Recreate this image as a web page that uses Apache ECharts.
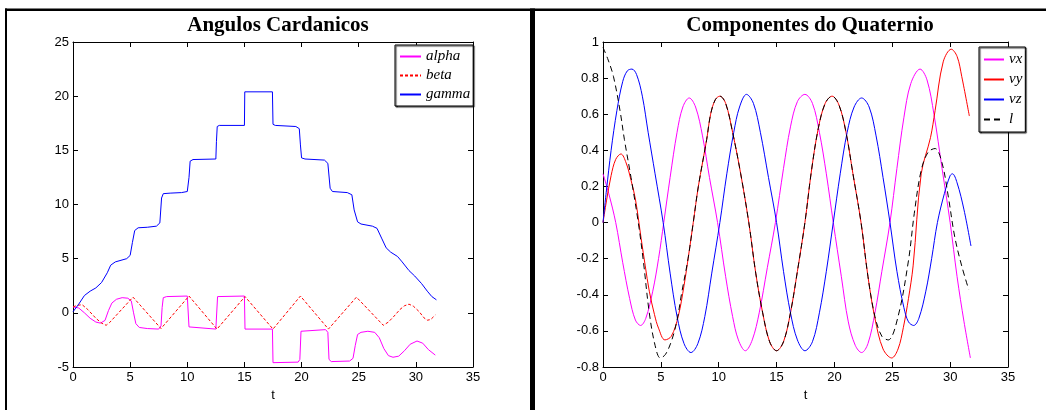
<!DOCTYPE html>
<html>
<head>
<meta charset="utf-8">
<script src="https://cdn.jsdelivr.net/npm/echarts@6/dist/echarts.min.js"></script>
<style>
  html, body { margin: 0; padding: 0; background: #fff; }
  #chart { width: 1046px; height: 410px; }
</style>
</head>
<body>
<div id="chart"></div>
<script>
// ---- Angulos Cardanicos: [t, angle] samples ----
const alpha = [[0,0.55],[0.5,0.45],[1.0,0.0],[1.5,-0.5],[2.0,-0.85],[2.4,-0.95],[2.8,-0.7],[3.1,0.2],[3.4,0.9],[3.8,1.25],[4.3,1.4],[4.8,1.35],[5.1,1.1],[5.3,0.0],[5.5,-1.0],[5.8,-1.35],[6.5,-1.45],[7.5,-1.5],[7.7,-1.2],[7.8,0.5],[7.9,1.4],[8.2,1.5],[10.0,1.55],[10.1,1.5],[10.15,-1.3],[10.3,-1.45],[12.5,-1.5],[12.6,-1.4],[12.65,1.5],[15.0,1.55],[15.05,-1.5],[17.45,-1.5],[17.5,-4.6],[19.7,-4.55],[19.85,-4.3],[19.95,-1.7],[20.1,-1.55],[22.1,-1.55],[22.3,-1.8],[22.4,-4.3],[22.6,-4.5],[24.2,-4.45],[24.5,-4.2],[24.7,-3.0],[24.9,-2.0],[25.2,-1.8],[25.8,-1.7],[26.4,-1.8],[26.8,-2.3],[27.2,-3.3],[27.6,-3.95],[28.0,-4.1],[28.5,-4.0],[29.0,-3.5],[29.5,-2.9],[30.1,-2.6],[30.6,-2.8],[31.1,-3.4],[31.7,-3.9]];
const beta = [[0,0.55],[0.4,0.7],[0.8,0.75],[1.3,0.3],[2.0,-0.5],[2.5,-0.95],[2.9,-1.15],[3.2,-0.9],[5.25,1.45],[7.7,-1.45],[10.15,1.55],[12.6,-1.5],[15.05,1.5],[17.5,-1.5],[19.9,1.55],[22.35,-1.5],[24.8,1.45],[27.15,-1.15],[27.6,-0.85],[28.1,-0.3],[28.6,0.3],[29.0,0.65],[29.4,0.8],[29.8,0.6],[30.3,0.1],[30.7,-0.45],[31.0,-0.68],[31.3,-0.62],[31.7,-0.2]];
const gamma = [[0,0.1],[0.5,0.8],[1.0,1.6],[1.5,2.0],[2.0,2.3],[2.5,2.8],[3.0,3.7],[3.3,4.4],[3.7,4.7],[4.2,4.85],[4.7,5.0],[5.0,5.3],[5.2,6.5],[5.4,7.6],[5.7,7.85],[6.5,7.9],[7.3,8.0],[7.6,8.3],[7.75,10.6],[7.9,11.0],[8.5,11.05],[9.5,11.1],[10.0,11.2],[10.15,12.5],[10.25,14.0],[10.5,14.15],[12.5,14.2],[12.55,15.8],[12.62,17.2],[12.8,17.3],[15.0,17.3],[15.03,20.4],[17.45,20.4],[17.5,17.4],[17.7,17.3],[19.5,17.2],[19.8,17.0],[19.9,15.5],[20.0,14.3],[20.3,14.2],[22.0,14.1],[22.3,13.8],[22.5,11.5],[22.7,11.2],[24.0,11.1],[24.4,10.9],[24.6,9.5],[24.9,8.4],[25.2,8.2],[26.2,8.0],[26.6,7.8],[27.0,6.9],[27.4,6.0],[27.8,5.6],[28.4,5.2],[28.8,4.7],[29.4,3.9],[29.9,3.4],[30.5,2.7],[31.0,2.0],[31.4,1.5],[31.8,1.2]];

// ---- Componentes do Quaternio: [t, component] samples ----
const vx = [[0,0.27],[0.5,0.16],[1.1,0.0],[1.7,-0.22],[2.3,-0.42],[2.8,-0.54],[3.25,-0.57],[3.7,-0.53],[4.3,-0.38],[4.8,-0.2],[5.25,0.0],[5.8,0.25],[6.4,0.5],[6.9,0.64],[7.45,0.69],[8.0,0.64],[8.6,0.48],[9.2,0.25],[9.9,0.0],[10.6,-0.3],[11.2,-0.52],[11.7,-0.65],[12.3,-0.71],[12.9,-0.65],[13.5,-0.5],[14.2,-0.25],[14.9,0.0],[15.6,0.3],[16.2,0.53],[16.8,0.67],[17.45,0.71],[18.1,0.66],[18.7,0.5],[19.3,0.27],[19.9,0.0],[20.6,-0.3],[21.2,-0.55],[21.8,-0.68],[22.35,-0.72],[22.9,-0.67],[23.5,-0.5],[24.1,-0.27],[24.8,0.0],[25.4,0.3],[26.0,0.58],[26.6,0.77],[27.4,0.85],[28.0,0.79],[28.6,0.6],[29.3,0.3],[30.0,0.0],[30.6,-0.3],[31.2,-0.55],[31.75,-0.75]];
const vy = [[0,0.0],[0.3,0.12],[0.7,0.26],[1.1,0.35],[1.55,0.38],[2.0,0.33],[2.4,0.24],[2.8,0.13],[3.3,-0.09],[3.65,-0.24],[4.0,-0.38],[4.45,-0.51],[4.8,-0.585],[5.35,-0.65],[5.9,-0.63],[6.5,-0.52],[7.0,-0.35],[7.4,-0.18],[7.8,0.0],[8.24,0.2],[8.96,0.46],[9.3,0.6],[9.7,0.68],[10.1,0.7],[10.6,0.66],[11.2,0.5],[11.9,0.27],[12.6,0.0],[13.2,-0.28],[13.8,-0.5],[14.4,-0.66],[15.0,-0.71],[15.6,-0.66],[16.2,-0.5],[16.8,-0.27],[17.45,0.0],[18.0,0.28],[18.6,0.52],[19.2,0.66],[19.8,0.7],[20.4,0.65],[21.0,0.5],[21.6,0.27],[22.3,0.0],[22.9,-0.3],[23.5,-0.53],[24.2,-0.7],[24.95,-0.75],[25.5,-0.7],[25.96,-0.58],[26.4,-0.42],[26.8,-0.24],[27.5,0.27],[28.3,0.47],[28.7,0.62],[29.4,0.89],[30.1,0.96],[30.6,0.92],[31.0,0.81],[31.66,0.59]];
const vz = [[0,0.0],[0.3,0.18],[0.7,0.4],[1.2,0.62],[1.7,0.78],[2.1,0.84],[2.5,0.85],[2.9,0.82],[3.4,0.7],[3.9,0.5],[4.5,0.27],[5.2,0.0],[5.8,-0.28],[6.4,-0.52],[7.0,-0.67],[7.6,-0.72],[8.2,-0.67],[8.8,-0.52],[9.4,-0.28],[10.1,0.0],[10.7,0.27],[11.3,0.5],[11.8,0.64],[12.4,0.71],[13.0,0.66],[13.6,0.5],[14.3,0.25],[15.0,0.0],[15.6,-0.27],[16.2,-0.5],[16.8,-0.65],[17.45,-0.71],[18.1,-0.66],[18.7,-0.5],[19.3,-0.27],[19.9,0.0],[20.5,0.27],[21.1,0.5],[21.7,0.64],[22.35,0.69],[23.0,0.64],[23.6,0.48],[24.2,0.25],[24.8,0.0],[25.4,-0.27],[26.0,-0.47],[26.4,-0.55],[26.85,-0.57],[27.3,-0.53],[27.9,-0.38],[28.4,-0.2],[28.9,0.0],[29.5,0.16],[30.0,0.26],[30.2,0.27],[30.6,0.22],[31.2,0.07],[31.8,-0.13]];
const l = [[0,0.97],[0.45,0.9],[0.9,0.81],[1.47,0.62],[1.85,0.46],[2.42,0.25],[3.05,0.0],[3.5,-0.22],[4.0,-0.5],[4.5,-0.68],[4.95,-0.75],[5.4,-0.73],[5.95,-0.65],[6.4,-0.54],[6.8,-0.39],[7.35,-0.2],[7.8,0.0],[8.24,0.2],[8.96,0.46],[9.3,0.6],[9.7,0.68],[10.1,0.7],[10.6,0.66],[11.2,0.5],[11.9,0.27],[12.6,0.0],[13.2,-0.28],[13.8,-0.5],[14.4,-0.66],[15.0,-0.71],[15.6,-0.66],[16.2,-0.5],[16.8,-0.27],[17.45,0.0],[18.0,0.28],[18.6,0.52],[19.2,0.66],[19.8,0.7],[20.4,0.65],[21.0,0.5],[21.6,0.27],[22.3,0.0],[22.9,-0.3],[23.5,-0.52],[24.1,-0.63],[24.65,-0.65],[25.5,-0.52],[26.4,-0.21],[26.9,0.05],[27.5,0.29],[28.1,0.39],[28.7,0.41],[29.3,0.33],[29.85,0.14],[30.4,-0.08],[31.0,-0.24],[31.6,-0.37]];

// axis ticks
const tTicks = { min: 0, max: 35, interval: 5 };
const angleTicks = { min: -5, max: 25, interval: 5 };
const quatTicks = { min: -0.8, max: 1, interval: 0.2 };

const sansFont = 'Liberation Sans, Arial, sans-serif';
const serifFont = 'Liberation Serif, Times New Roman, serif';

function boxAxis(gridIndex, ticks, pos, withLabels, extra) {
  return Object.assign({
    type: 'value', gridIndex: gridIndex, position: pos,
    min: ticks.min, max: ticks.max, interval: ticks.interval,
    axisLine: { show: true, onZero: false, lineStyle: { color: '#000', width: 1 } },
    axisTick: { show: true, inside: true, length: 5, lineStyle: { color: '#000', width: 1 } },
    axisLabel: { show: withLabels, color: '#000', fontFamily: sansFont, fontSize: 13, margin: 4 },
    splitLine: { show: false }
  }, extra || {});
}

const xName = { name: 't', nameLocation: 'middle', nameGap: 20,
  nameTextStyle: { color: '#000', fontFamily: sansFont, fontSize: 13 } };

function lineSeries(name, data, color, xi, dash, smooth) {
  return {
    name: name, type: 'line', data: data, xAxisIndex: xi, yAxisIndex: xi,
    showSymbol: false, symbol: 'none', smooth: smooth || false,
    lineStyle: { color: color, width: 1, type: dash || 'solid' },
    itemStyle: { color: color },
    emphasis: { disabled: true }, silent: true, animation: false
  };
}

// legend: line samples only, marker dot hidden
const legendBase = {
  orient: 'vertical', borderColor: '#000', borderWidth: 1, backgroundColor: '#fff',
  shadowColor: 'rgba(0,0,0,0.8)', shadowOffsetX: 1, shadowOffsetY: 1, shadowBlur: 1,
  itemHeight: 14, selectedMode: false,
  itemStyle: { opacity: 0 },
  textStyle: { fontFamily: serifFont, fontStyle: 'italic', fontSize: 15, color: '#000' }
};

const chart = echarts.init(document.getElementById('chart'), null, { renderer: 'canvas' });
chart.setOption({
  animation: false,
  backgroundColor: '#fff',
  title: [
    { text: 'Angulos Cardanicos', left: 273, top: 10, textAlign: 'center',
      textStyle: { fontFamily: serifFont, fontWeight: 'bold', fontSize: 21, color: '#000' } },
    { text: 'Componentes do Quaternio', left: 805, top: 10, textAlign: 'center',
      textStyle: { fontFamily: serifFont, fontWeight: 'bold', fontSize: 21, color: '#000' } }
  ],
  grid: [
    { left: 73, top: 42, width: 400, height: 325 },
    { left: 603, top: 42, width: 405, height: 325 }
  ],
  xAxis: [
    boxAxis(0, tTicks, 'bottom', true, xName),
    boxAxis(1, tTicks, 'bottom', true, xName),
    boxAxis(0, tTicks, 'top', false),
    boxAxis(1, tTicks, 'top', false)
  ],
  yAxis: [
    boxAxis(0, angleTicks, 'left', true),
    boxAxis(1, quatTicks, 'left', true),
    boxAxis(0, angleTicks, 'right', false),
    boxAxis(1, quatTicks, 'right', false)
  ],
  legend: [
    Object.assign({}, legendBase, { data: ['alpha', 'beta', 'gamma'], left: 395, top: 45,
      itemWidth: 21, itemGap: 4, padding: [4, 3, 4, 4] }),
    Object.assign({}, legendBase, { data: ['vx', 'vy', 'vz', 'l'], left: 979, top: 47,
      itemWidth: 20, itemGap: 5, padding: [5, 3, 5, 4] })
  ],
  series: [
    lineSeries('alpha', alpha, '#ff00ff', 0),
    lineSeries('beta', beta, '#ff0000', 0, [3, 2]),
    lineSeries('gamma', gamma, '#0000ff', 0),
    lineSeries('vx', vx, '#ff00ff', 1, null, 0.35),
    lineSeries('vy', vy, '#ff0000', 1, null, 0.35),
    lineSeries('vz', vz, '#0000ff', 1, null, 0.35),
    lineSeries('l', l, '#000000', 1, [6, 4], 0.35)
  ],
  graphic: [
    { type: 'rect', silent: true, shape: { x: 5, y: 8.5, width: 1041, height: 2.5 }, style: { fill: '#000' } },
    { type: 'rect', silent: true, shape: { x: 5, y: 8.5, width: 2, height: 402 }, style: { fill: '#000' } },
    { type: 'rect', silent: true, shape: { x: 530, y: 8.5, width: 5, height: 402 }, style: { fill: '#000' } }
  ]
});
</script>
</body>
</html>
